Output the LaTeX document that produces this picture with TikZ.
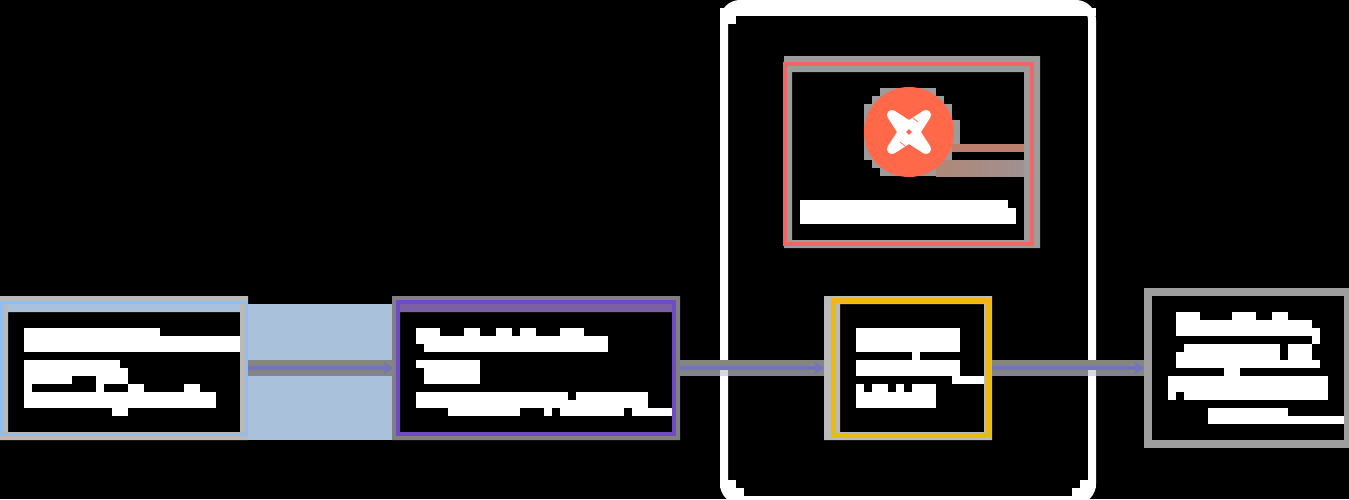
\documentclass[tikz,border=0pt]{standalone}
\usepackage{xcolor}
\usetikzlibrary{
  arrows.meta,
  backgrounds,
  shapes.geometric
}
\definecolor{skySrc}{HTML}{8FBDF0}
\definecolor{skyTile}{HTML}{A9C1DB}
\definecolor{skyMute}{HTML}{B9B9B9}
\definecolor{violetLoad}{HTML}{6F4CC5}
\definecolor{violetTile}{HTML}{7C60A4}
\definecolor{redDbt}{HTML}{F06565}
\definecolor{orangeDbt}{HTML}{FF694A}
\definecolor{streakHi}{HTML}{BC7F6C}
\definecolor{streakLeft}{HTML}{B08878}
\definecolor{streakRight}{HTML}{A09090}
\definecolor{yellowStore}{HTML}{EDB90E}
\definecolor{muteDark}{HTML}{808080}
\definecolor{muteMid}{HTML}{9C9C9C}
\definecolor{muteLight}{HTML}{BBBBBB}
\definecolor{muteEnd}{HTML}{9E9E9E}
\definecolor{flowBlue}{HTML}{7474BC}
\definecolor{flowGrey}{HTML}{858585}
\tikzset{
  boxnode/.style={
    rectangle, inner sep=0pt, outer sep=0pt
  },
  srcbox/.style={boxnode, draw=skySrc, line width=3pt},
  loadbox/.style={boxnode, draw=violetLoad, line width=4pt},
  dbtbox/.style={boxnode, draw=redDbt, line width=4pt},
  storebox/.style={boxnode, draw=yellowStore, line width=5pt},
  usebox/.style={boxnode, draw=muteEnd, line width=8pt},
  cloudbox/.style={boxnode, draw=white, line width=8pt, rounded corners=16pt},
  flowband/.style={line width=16pt, flowGrey},
  flowline/.style={-{Stealth[length=10pt, width=13pt]}, line width=4pt, flowBlue},
  crosstile/.style={fill=black!15}
}
\begin{document}
\begin{tikzpicture}[x=1pt, y=-1pt]
  \useasboundingbox (0,0) rectangle (1349,499);
  \begin{scope}[on background layer]
    \fill[black] (0,0) rectangle (1349,499);
    \foreach \xa/\ya/\xb/\yb/\xc/\yc/\xd/\yd/\col in {
      0/296/248/440/8/312/240/432/skyMute,
      392/296/680/440/400/312/672/432/muteDark,
      784/56/1040/248/792/72/1024/240/muteMid,
      824/296/992/440/840/304/984/432/muteLight}{
      \fill[\col, even odd rule] (\xa,\ya) rectangle (\xb,\yb) (\xc,\yc) rectangle (\xd,\yd);
    }
    \fill[skyTile] (248,304) rectangle (392,440);
    \fill[skyTile] (8,304) rectangle (240,312);
    \fill[violetTile] (400,304) rectangle (672,312);
    \foreach \xa/\ya/\xb/\yb in {
      880/88/936/96, 872/96/944/104, 864/104/952/120, 864/120/960/144,
      864/144/952/160, 872/160/944/168, 880/168/936/176}{
      \fill[muteMid] (\xa,\ya) rectangle (\xb,\yb);
    }
    \fill[streakHi] (952,144) rectangle (1024,152);
    \fill[left color=streakLeft, right color=streakRight] (936,160) rectangle (1024,176);
  \end{scope}
  \node[cloudbox, minimum width=368pt, minimum height=496pt] (cloudframe) at (908,252) {};
  \node[srcbox, minimum width=245pt, minimum height=132pt] (sourcenode) at (124,368) {};
  \node[loadbox, minimum width=276pt, minimum height=132pt] (loadnode) at (536,368) {};
  \node[storebox, minimum width=155pt, minimum height=135pt] (storenode) at (910.5,368) {};
  \node[usebox, minimum width=200pt, minimum height=152pt] (usenode) at (1248,368) {};
  \node[dbtbox, minimum width=247pt, minimum height=180pt] (dbtnode) at (908.5,154) {};
  \node[circle, fill=orangeDbt, inner sep=0pt, minimum size=90pt] (dbtlogo) at (909,132) {};
  \filldraw[white, line width=10pt, line join=round] (892,115) -- (909,126) -- (926,115) -- (915,132)
    -- (926,149) -- (909,138) -- (892,149) -- (903,132) -- cycle;
  \draw[orangeDbt, line width=.7pt] (913,118) -- (918,122);
  \draw[orangeDbt, line width=.7pt] (900,142) -- (905,146);
  \fill[orangeDbt, rotate around={45:(909,132)}] (907,130) rectangle (911,134);
  \foreach \from/\to/\sa/\sb in {sourcenode/loadnode/1.5/5, loadnode/storenode/6/9, storenode/usenode/4/4}{
    \draw[flowband, shorten <=\sa pt, shorten >=\sb pt] (\from.east) -- (\to.west);
    \draw[flowline, shorten <=\sa pt, shorten >=\sb pt] (\from.east) -- (\to.west);
  }
  \foreach \xa/\xb in {720/728, 1088/1096}{
    \fill[crosstile] (\xa,370) rectangle (\xb,376);
  }
  \foreach \xa/\ya/\xb/\yb in {
    720/8/1096/16, 720/16/736/24,
    720/480/736/488, 728/488/744/496, 736/496/1080/499,
    1080/480/1096/488, 1072/488/1088/496,
    24/328/160/336, 24/336/240/352, 24/360/120/368, 24/368/128/376,
    24/376/72/384, 96/376/128/384, 24/384/32/392, 96/384/104/392,
    128/384/144/392, 184/384/200/392, 24/392/216/408, 112/408/128/416,
    416/328/440/336, 464/328/480/336, 496/328/512/336, 520/328/536/336,
    560/328/584/336, 416/336/608/344, 424/344/608/352, 416/360/480/368,
    424/368/480/384, 416/392/568/400, 576/392/648/400, 416/400/648/408,
    448/408/520/416, 544/408/552/416, 560/408/624/416, 632/408/672/416,
    800/200/1008/208, 800/208/1016/224,
    856/328/960/352, 912/352/920/360, 856/360/960/376, 952/376/984/384,
    856/384/864/392, 872/384/888/392, 896/384/904/392, 912/384/936/392,
    856/392/936/408,
    1176/312/1200/320, 1232/312/1256/320, 1272/312/1288/320,
    1176/320/1312/328, 1176/328/1320/336, 1312/336/1320/344,
    1184/344/1280/352, 1288/344/1312/352, 1176/352/1280/360,
    1288/352/1312/360, 1176/360/1320/368, 1224/368/1240/376,
    1168/376/1328/392, 1168/392/1176/400, 1184/392/1328/400,
    1208/408/1288/416, 1208/416/1344/424}{
    \fill[white] (\xa,\ya) rectangle (\xb,\yb);
  }
\end{tikzpicture}
\end{document}
